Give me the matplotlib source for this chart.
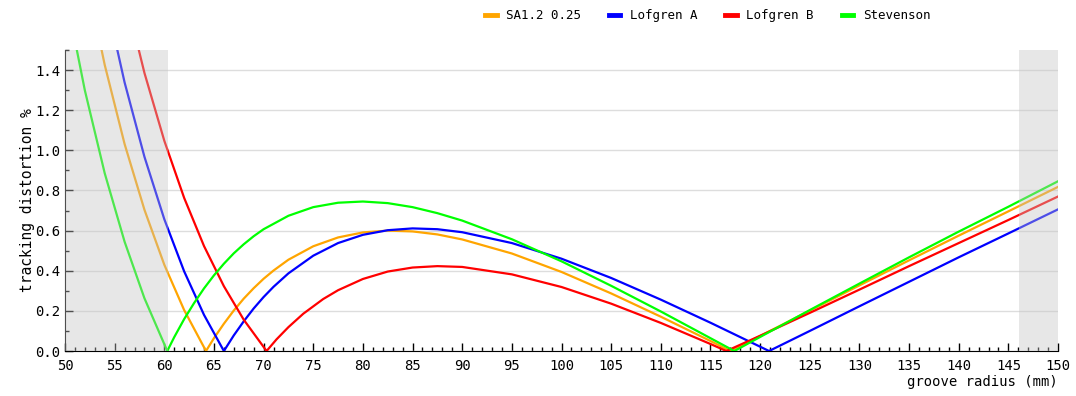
import matplotlib
matplotlib.use("Agg")
import matplotlib.pyplot as plt
from matplotlib.ticker import MultipleLocator

# values (groove radius mm, distortion %)
sa_x = [50, 52, 54, 56, 58, 60, 62, 64.2, 65, 66, 67, 68, 69, 70, 71, 72.5, 75, 77.5, 80,
        82.5, 85, 87.5, 90, 95, 100, 105, 110, 115, 117, 120, 125, 130, 135, 140, 145, 150]
sa_y = [2.46, 1.898, 1.426, 1.032, 0.704, 0.430, 0.204, 0.0, 0.064, 0.136, 0.202, 0.261,
        0.313, 0.360, 0.401, 0.455, 0.522, 0.566, 0.591, 0.600, 0.596, 0.581, 0.556, 0.486,
        0.394, 0.287, 0.171, 0.050, 0.0, 0.075, 0.201, 0.327, 0.452, 0.575, 0.696, 0.818]

lofa_x = [50, 52, 54, 56, 58, 60, 62, 64, 66, 67, 68, 69, 70, 71, 72.5, 75, 77.5, 80, 82.5,
          85, 87.5, 90, 95, 100, 105, 110, 115, 120.9, 125, 130, 135, 140, 145, 150]
lofa_y = [2.94, 2.31, 1.781, 1.339, 0.968, 0.657, 0.397, 0.180, 0.0, 0.078, 0.148, 0.212,
          0.269, 0.320, 0.387, 0.475, 0.538, 0.579, 0.602, 0.611, 0.607, 0.592, 0.538,
          0.460, 0.364, 0.256, 0.141, 0.0, 0.100, 0.223, 0.345, 0.467, 0.586, 0.706]

lofb_x = [50, 52, 54, 56, 58, 60, 62, 64, 66, 68, 70.3, 71.3, 72.5, 74, 76, 77.5, 80, 82.5,
          85, 87.5, 90, 95, 100, 105, 110, 115, 116.6, 120, 125, 130, 135, 140, 145, 150]
lofb_y = [3.50, 2.83, 2.264, 1.788, 1.386, 1.048, 0.763, 0.523, 0.323, 0.156, 0.0, 0.058,
          0.119, 0.186, 0.259, 0.303, 0.359, 0.396, 0.416, 0.423, 0.419, 0.382, 0.319,
          0.236, 0.140, 0.035, 0.0, 0.076, 0.190, 0.306, 0.423, 0.538, 0.653, 0.770]

stev_x = [50, 52, 54, 56, 58, 60.3, 61, 62, 63, 64, 65, 66, 67, 68, 69, 70, 72.5, 75, 77.5,
          80, 82.5, 85, 87.5, 90, 95, 100, 105, 110, 115, 117.4, 120, 125, 130, 135, 140,
          145, 150]
stev_y = [1.797, 1.299, 0.886, 0.545, 0.263, 0.0, 0.069, 0.159, 0.239, 0.312, 0.377, 0.435,
          0.487, 0.532, 0.572, 0.607, 0.674, 0.717, 0.739, 0.745, 0.737, 0.717, 0.687,
          0.650, 0.557, 0.447, 0.325, 0.197, 0.064, 0.0, 0.070, 0.204, 0.336, 0.467, 0.595,
          0.719, 0.846]

series = [("SA1.2 0.25", sa_x, sa_y, "#ffa500"),
          ("Lofgren A", lofa_x, lofa_y, "#0000ff"),
          ("Lofgren B", lofb_x, lofb_y, "#ff0000"),
          ("Stevenson", stev_x, stev_y, "#00ff00")]

inner_groove = 60.325
outer_groove = 146.05

plt.rcParams["font.family"] = ["DejaVu Sans Mono"]

fig = plt.figure(figsize=(10.76, 3.96), dpi=100)
ax = fig.add_axes([0.0604, 0.1136, 0.9229, 0.7601])

for name, xs, ys, col in series:
    ax.plot(xs, ys, color=col, lw=1.6, label=name, zorder=3)

# grey zones outside the recorded area, drawn over the lines (lines look faded)
ax.axvspan(50, inner_groove, color="#c4c4c4", alpha=0.4, lw=0, zorder=4)
ax.axvspan(outer_groove, 150, color="#c4c4c4", alpha=0.4, lw=0, zorder=4)

ax.set_xlim(50, 150)
ax.set_ylim(0, 1.5)
ax.xaxis.set_major_locator(MultipleLocator(5))
ax.xaxis.set_minor_locator(MultipleLocator(1))
ax.yaxis.set_major_locator(MultipleLocator(0.2))
ax.yaxis.set_minor_locator(MultipleLocator(0.1))
ax.yaxis.set_major_formatter(plt.FormatStrFormatter("%.1f"))

ax.yaxis.grid(True, color="#dddddd", lw=1)
ax.set_axisbelow(True)
for s in ["top", "right"]:
    ax.spines[s].set_visible(False)
ax.tick_params(which="both", direction="in", width=1, labelsize=10, colors="black")
ax.tick_params(which="major", length=6)
ax.tick_params(which="minor", length=3)
ax.tick_params(axis="x", pad=6)

ax.set_xlabel("groove radius (mm)", fontsize=10, loc="right", labelpad=1)
ax.set_ylabel("tracking distortion %", fontsize=10.5, labelpad=0)

leg = fig.legend(loc="upper right", bbox_to_anchor=(0.875, 1.005), ncol=4, frameon=False,
                 fontsize=9, handlelength=0.9, handletextpad=0.8, columnspacing=2.2)
for h in leg.get_lines():
    h.set_linewidth(3.5)

fig.savefig("out.png", dpi=100)
